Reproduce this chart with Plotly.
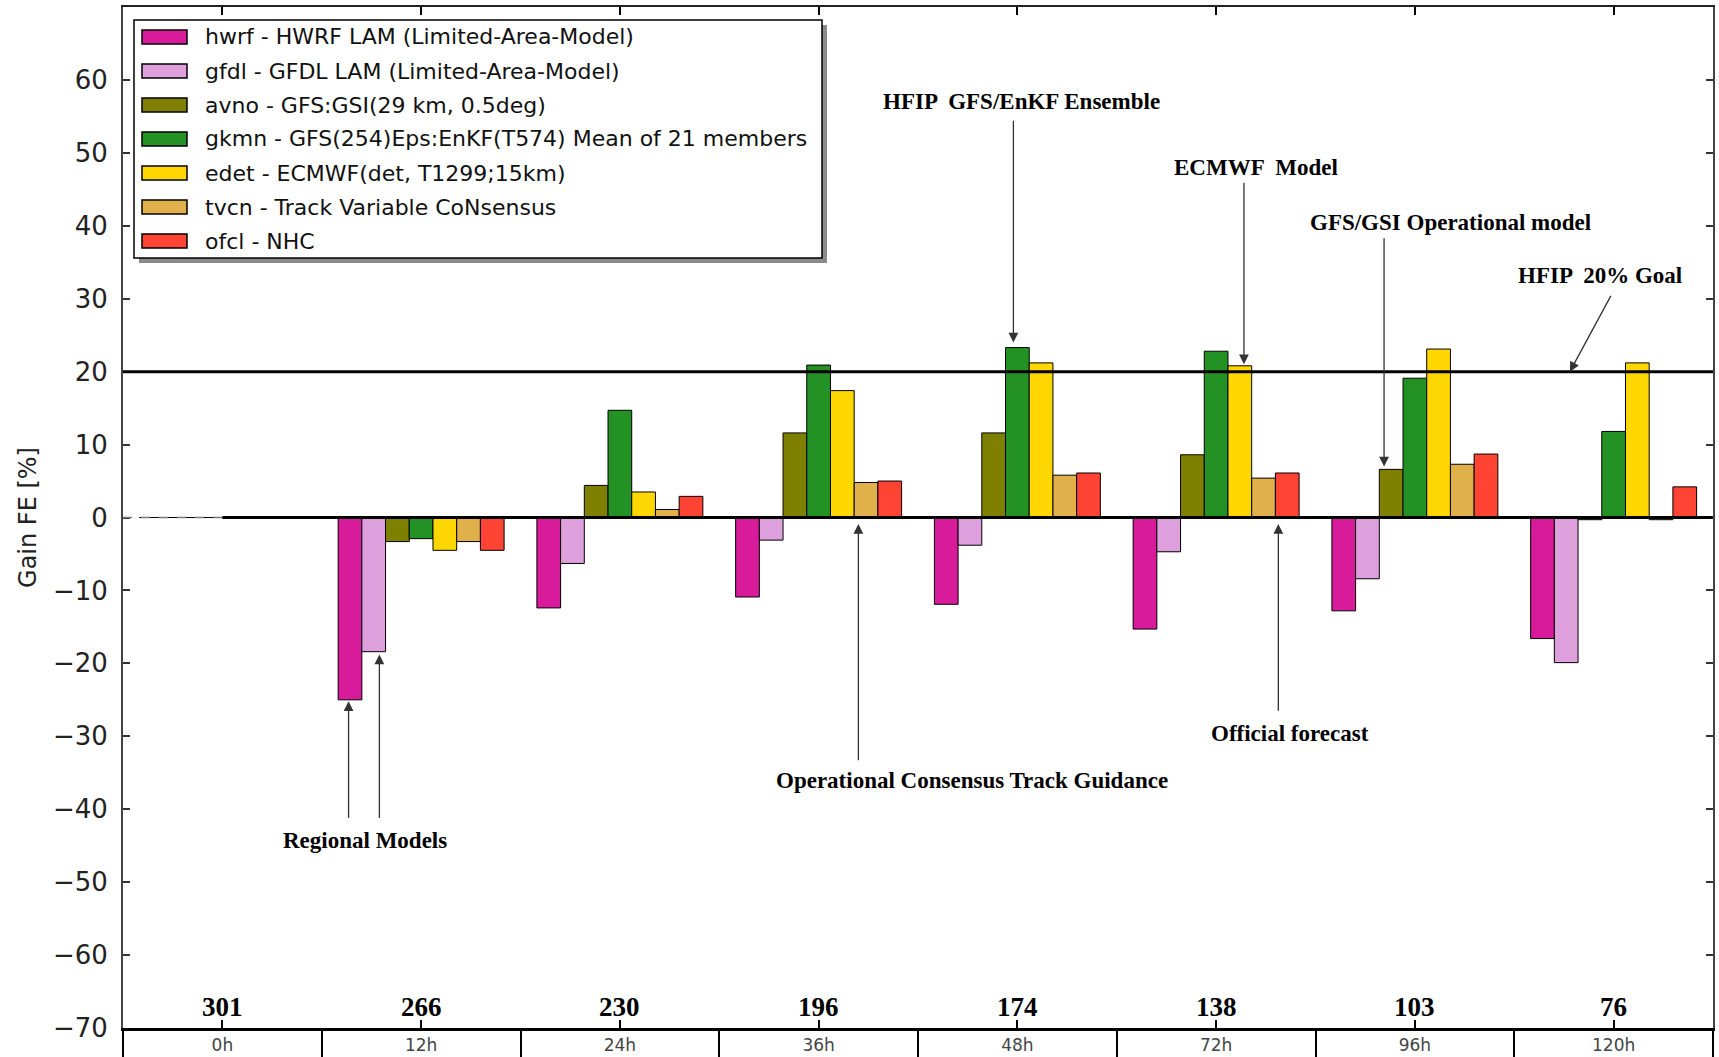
import plotly.graph_objects as go

# ---------------- data ----------------
hours = ["0h", "12h", "24h", "36h", "48h", "72h", "96h", "120h"]
counts = [301, 266, 230, 196, 174, 138, 103, 76]

series_names = [
    "hwrf - HWRF LAM (Limited-Area-Model)",
    "gfdl - GFDL LAM (Limited-Area-Model)",
    "avno - GFS:GSI(29 km, 0.5deg)",
    "gkmn - GFS(254)Eps:EnKF(T574) Mean of 21 members",
    "edet - ECMWF(det, T1299;15km)",
    "tvcn - Track Variable CoNsensus",
    "ofcl - NHC",
]
hwrf = [0, -25.0, -12.4, -10.9, -11.9, -15.3, -12.8, -16.6]
gfdl = [0, -18.4, -6.3, -3.1, -3.8, -4.7, -8.4, -19.9]
avno = [0, -3.3, 4.4, 11.6, 11.6, 8.6, 6.6, -0.3]
gkmn = [0, -2.9, 14.7, 20.9, 23.3, 22.8, 19.1, 11.8]
edet = [0, -4.5, 3.5, 17.4, 21.2, 20.8, 23.1, 21.2]
tvcn = [0, -3.3, 1.1, 4.8, 5.8, 5.4, 7.3, -0.3]
ofcl = [0, -4.5, 2.9, 5.0, 6.1, 6.1, 8.7, 4.2]
series_values = [hwrf, gfdl, avno, gkmn, edet, tvcn, ofcl]

goal = 20
y_ticks = list(range(-70, 70, 10))

# ---------------- style ----------------
colors = ["#D81B9A", "#DDA0DD", "#808000", "#249124", "#FFD700", "#E0B04A", "#FF4433"]
W, H = 1719, 1057
ML, MR, MT, MB = 123, 6, 7, 29
PW, PH = W - ML - MR, H - MT - MB
YMIN, YMAX = -70, 70
XMIN, XMAX = -0.5, len(hours) - 0.5


def px(xf):
    return (xf - ML) / PW


def py(yf):
    return (H - MB - yf) / PH


xs = list(range(len(hours)))
fig = go.Figure()
for name, vals, col in zip(series_names, series_values, colors):
    fig.add_trace(go.Bar(
        x=xs, y=vals, name=name, marker_color=col,
        marker_line_color="black", marker_line_width=1,
        showlegend=False,
    ))

# dummy traces so overlay axes are drawn
fig.add_trace(go.Scatter(x=[0], y=[0], xaxis="x2", yaxis="y", mode="markers",
                         marker=dict(opacity=0), hoverinfo="skip", showlegend=False))
fig.add_trace(go.Scatter(x=[0], y=[0], xaxis="x3", yaxis="y", mode="markers",
                         marker=dict(opacity=0), hoverinfo="skip", showlegend=False))

shapes = []
# 20% goal line
shapes.append(dict(type="line", xref="x", yref="y", x0=XMIN, x1=XMAX, y0=goal, y1=goal,
                   line=dict(color="black", width=3), layer="above"))
# zero line
shapes.append(dict(type="line", xref="x", yref="y", x0=0, x1=XMAX, y0=0, y1=0,
                   line=dict(color="black", width=3), layer="above"))
shapes.append(dict(type="line", xref="x", yref="y", x0=XMIN, x1=0, y0=0, y1=0,
                   line=dict(color="#777", width=1.5, dash="dash"), layer="above"))

# custom legend
bx0, bx1, by0, by1 = 134, 822, 20, 258
shapes.append(dict(type="rect", xref="paper", yref="paper",
                   x0=px(bx0 + 5), x1=px(bx1 + 5), y0=py(by1 + 5), y1=py(by0 + 5),
                   fillcolor="#8a8a8a", line=dict(width=0), layer="above"))
shapes.append(dict(type="rect", xref="paper", yref="paper",
                   x0=px(bx0), x1=px(bx1), y0=py(by1), y1=py(by0),
                   fillcolor="white", line=dict(color="black", width=1.5), layer="above"))
annotations = []
for i, (name, col) in enumerate(zip(series_names, colors)):
    cy = 37 + 34 * i
    shapes.append(dict(type="rect", xref="paper", yref="paper",
                       x0=px(142), x1=px(187), y0=py(cy + 7), y1=py(cy - 7),
                       fillcolor=col, line=dict(color="black", width=1.5), layer="above"))
    annotations.append(dict(xref="paper", yref="paper", x=px(203), y=py(cy),
                            xanchor="left", yanchor="middle", text=name, showarrow=False,
                            font=dict(family="DejaVu Sans", size=22, color="#111")))

# counts above the bottom axis
for xi, c in zip(xs, counts):
    annotations.append(dict(x=xi, y=YMIN, xref="x", yref="y", text=f"<b>{c}</b>",
                            showarrow=False, yanchor="bottom", yshift=4,
                            font=dict(family="Liberation Serif", size=27, color="black")))

# text labels
label_font = dict(family="Liberation Serif", size=23, color="black")
texts = [
    ("HFIP  GFS/EnKF Ensemble", 4.02, 57.0),
    ("ECMWF  Model", 5.20, 48.0),
    ("GFS/GSI Operational model", 6.18, 40.5),
    ("HFIP  20% Goal", 6.93, 33.2),
    ("Regional Models", 0.72, -44.3),
    ("Operational Consensus Track Guidance", 3.77, -36.0),
    ("Official forecast", 5.37, -29.6),
]
for t, x, y in texts:
    annotations.append(dict(x=x, y=y, xref="x", yref="y", text=f"<b>{t}</b>",
                            showarrow=False, font=label_font))

arrows = [
    (3.98, 54.6, 3.98, 24.0),
    (5.14, 46.1, 5.14, 21.0),
    (5.845, 38.5, 5.845, 7.0),
    (6.99, 30.6, 6.78, 20.0),
    (0.635, -41.4, 0.635, -25.2),
    (0.79, -41.4, 0.79, -18.8),
    (3.20, -33.5, 3.20, -0.9),
    (5.313, -26.7, 5.313, -0.9),
]
for ax, ay, x, y in arrows:
    annotations.append(dict(x=x, y=y, ax=ax, ay=ay, xref="x", yref="y", axref="x", ayref="y",
                            text="", showarrow=True, arrowhead=2, arrowsize=1.5,
                            arrowwidth=1.3, arrowcolor="#333", standoff=0))

fig.update_layout(
    width=W, height=H,
    margin=dict(l=ML, r=MR, t=MT, b=MB, pad=0, autoexpand=False),
    paper_bgcolor="white", plot_bgcolor="white",
    barmode="group", bargap=0.165, bargroupgap=0,
    shapes=shapes, annotations=annotations,
    font=dict(family="DejaVu Sans", color="black"),
    xaxis=dict(range=[XMIN, XMAX], tickvals=xs, ticktext=hours, ticks="inside",
               ticklen=8, tickwidth=1.5, tickcolor="black", showline=True,
               linecolor="black", linewidth=3, showgrid=False, zeroline=False,
               tickfont=dict(family="DejaVu Sans", size=17, color="#444"),
               ticklabelstandoff=0, automargin=False),
    xaxis2=dict(overlaying="x", anchor="y", side="bottom", range=[XMIN, XMAX],
                tickvals=[i + 0.5 for i in range(-1, len(hours))], ticks="outside",
                ticklen=32, tickwidth=2, tickcolor="black", showticklabels=False,
                showline=False, showgrid=False, zeroline=False, automargin=False),
    xaxis3=dict(overlaying="x", anchor="y", side="top", range=[XMIN, XMAX],
                tickvals=xs, ticks="inside", ticklen=8, tickwidth=1.5, tickcolor="black",
                showticklabels=False, showline=True, linecolor="#222", linewidth=2,
                showgrid=False, zeroline=False, automargin=False),
    yaxis=dict(range=[YMIN, YMAX], tickvals=y_ticks,
               ticktext=[str(v).replace("-", "\u2212") for v in y_ticks],
               ticks="inside", ticklen=7, tickwidth=1.5, tickcolor="#333",
               showline=True, linecolor="#444", linewidth=2, mirror="ticks",
               showgrid=False, zeroline=False, automargin=False,
               tickfont=dict(family="DejaVu Sans", size=26, color="#222"),
               ticklabelstandoff=8,
               title=dict(text="Gain FE [%]", standoff=10,
                          font=dict(family="DejaVu Sans", size=24, color="#222"))),
)

fig.write_html("out.html",
               config={"displayModeBar": False},
               post_script="document.body.style.margin='0px';"
                           "document.body.style.overflow='hidden';")
